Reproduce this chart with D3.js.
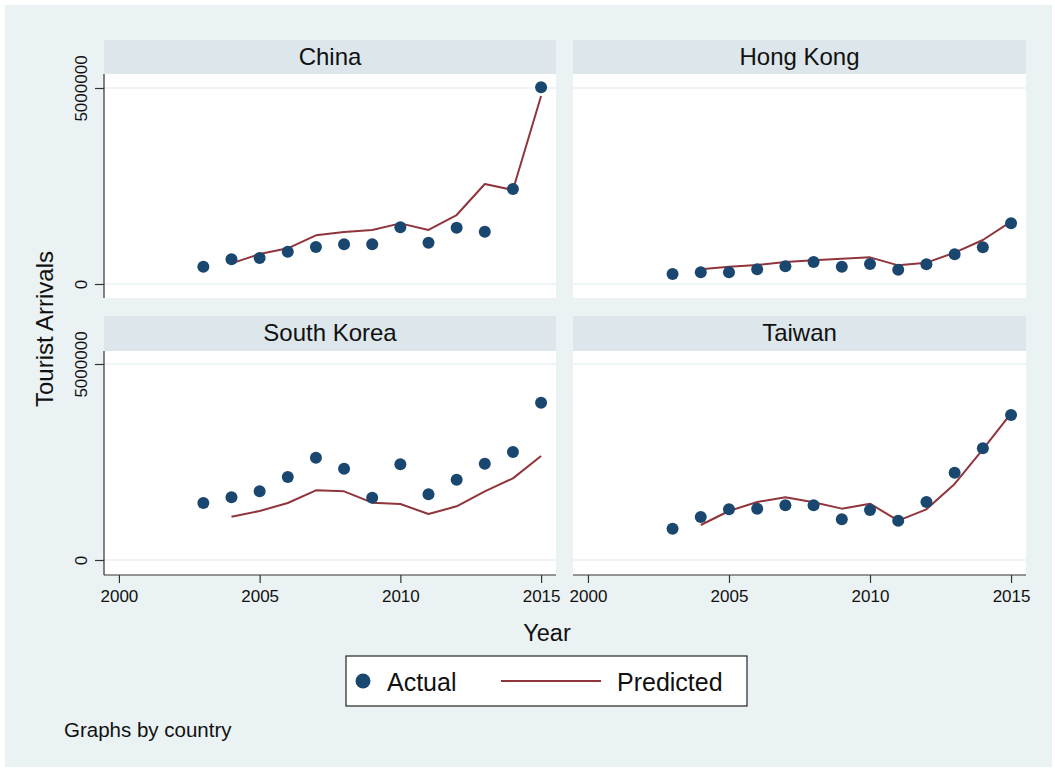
<!DOCTYPE html>
<html>
<head>
<meta charset="utf-8">
<script src="https://cdn.jsdelivr.net/npm/d3@7"></script>
<style>
  html, body { margin: 0; padding: 0; background: #ffffff; }
  svg { display: block; }
  text { font-family: "Liberation Sans", Arial, Helvetica, sans-serif; fill: #111; }
</style>
</head>
<body>
<svg id="chart" width="1055" height="770"></svg>
<script>
// ---------------- data ----------------
const countries = ["China", "Hong Kong", "South Korea", "Taiwan"];
const years = [2003, 2004, 2005, 2006, 2007, 2008, 2009, 2010, 2011, 2012, 2013, 2014, 2015];
const predYears = [2004, 2005, 2006, 2007, 2008, 2009, 2010, 2011, 2012, 2013, 2014, 2015];

const actualChina     = [441000, 630000, 663000, 824000, 944000, 1013000, 1013000, 1446000, 1054000, 1437000, 1335000, 2423000, 5017000];
const predictedChina  = [527000, 765000, 910000, 1241000, 1327000, 1378000, 1547000, 1378000, 1760000, 2551000, 2398000, 4796000];

const actualHongKong    = [255000, 298000, 298000, 374000, 451000, 561000, 442000, 510000, 366000, 502000, 757000, 935000, 1547000];
const predictedHongKong = [374000, 442000, 485000, 561000, 604000, 646000, 680000, 476000, 544000, 799000, 1122000, 1590000];

const actualKorea    = [1454000, 1599000, 1752000, 2117000, 2610000, 2330000, 1590000, 2440000, 1675000, 2049000, 2457000, 2755000, 4014000];
const predictedKorea = [1105000, 1250000, 1454000, 1777000, 1752000, 1463000, 1429000, 1173000, 1369000, 1752000, 2083000, 2653000];

const actualTaiwan    = [799000, 1097000, 1293000, 1310000, 1395000, 1395000, 1037000, 1276000, 1003000, 1480000, 2228000, 2848000, 3699000];
const predictedTaiwan = [893000, 1250000, 1480000, 1599000, 1471000, 1310000, 1437000, 1003000, 1293000, 1939000, 2823000, 3742000];

const yTicks = [0, 5000000];
const xTicks = [2000, 2005, 2010, 2015];
const legendLabels = ["Actual", "Predicted"];

const actuals = [actualChina, actualHongKong, actualKorea, actualTaiwan];
const predicteds = [predictedChina, predictedHongKong, predictedKorea, predictedTaiwan];

// ---------------- style ----------------
const BG = "#eaf2f3", STRIP = "#dce6eb", MARK = "#1a476f", LINE = "#90353b", AXIS = "#333333";
const FONT = '"Liberation Sans", Arial, Helvetica, sans-serif';
const svg = d3.select("#chart");

svg.append("rect").attr("x", 5).attr("y", 5).attr("width", 1047).attr("height", 762).attr("fill", BG);

// panel geometry
const panels = [
  { left: 104, right: 556, stripTop: 40, top: 74, bottom: 298, zeroPx: 284, showY: true,  showX: false },
  { left: 573, right: 1026, stripTop: 40, top: 74, bottom: 298, zeroPx: 284, showY: false, showX: false },
  { left: 104, right: 556, stripTop: 316, top: 351, bottom: 575, zeroPx: 560, showY: true,  showX: true },
  { left: 573, right: 1026, stripTop: 316, top: 351, bottom: 575, zeroPx: 560, showY: false, showX: true }
];
const pxPer5M = 196;

panels.forEach((p, i) => {
  const g = svg.append("g");
  // strip
  g.append("rect").attr("x", p.left).attr("y", p.stripTop)
    .attr("width", p.right - p.left).attr("height", p.top - p.stripTop).attr("fill", STRIP);
  g.append("text").attr("x", (p.left + p.right) / 2).attr("y", p.stripTop + 25)
    .attr("text-anchor", "middle").style("font-size", "24px").text(countries[i]);
  // plot area
  g.append("rect").attr("x", p.left).attr("y", p.top)
    .attr("width", p.right - p.left).attr("height", p.bottom - p.top).attr("fill", "#ffffff");

  const x = d3.scaleLinear().domain([1999.47, 2015.53]).range([p.left, p.right]);
  const yMin = -(p.bottom - p.zeroPx) / pxPer5M * 5000000;
  const yMax = (p.zeroPx - p.top) / pxPer5M * 5000000;
  const y = d3.scaleLinear().domain([yMin, yMax]).range([p.bottom, p.top]);

  // grid lines
  g.selectAll(".grid").data(yTicks).enter().append("line")
    .attr("x1", p.left).attr("x2", p.right)
    .attr("y1", d => y(d)).attr("y2", d => y(d))
    .attr("stroke", BG).attr("stroke-width", 1.5);

  // y axis
  if (p.showY) {
    const ya = g.append("g").attr("transform", `translate(${p.left},0)`)
      .call(d3.axisLeft(y).tickValues(yTicks).tickSize(9).tickPadding(5).tickFormat(d3.format("d")));
    ya.attr("font-size", null).attr("font-family", null);
    ya.select(".domain").attr("stroke", AXIS).attr("stroke-width", 1.2).attr("d", `M0,${p.top}V${p.bottom}`);
    ya.selectAll(".tick line").attr("stroke", AXIS).attr("stroke-width", 1.2);
    ya.selectAll(".tick text")
      .style("font-size", "17px").style("font-family", FONT).attr("fill", "#111")
      .attr("transform", "rotate(-90)")
      .attr("x", 0).attr("y", -17).attr("dy", "0").attr("text-anchor", "middle");
  }
  // x axis
  if (p.showX) {
    const xa = g.append("g").attr("transform", `translate(0,${p.bottom})`)
      .call(d3.axisBottom(x).tickValues(xTicks).tickSize(8).tickPadding(7).tickFormat(d3.format("d")));
    xa.attr("font-size", null).attr("font-family", null);
    xa.select(".domain").attr("stroke", AXIS).attr("stroke-width", 1.2).attr("d", `M${p.left},0H${p.right}`);
    xa.selectAll(".tick line").attr("stroke", AXIS).attr("stroke-width", 1.2);
    xa.selectAll(".tick text").style("font-size", "17px").style("font-family", FONT).attr("fill", "#111");
  }

  // predicted line
  const line = d3.line().x((d, j) => x(predYears[j])).y(d => y(d));
  g.append("path").datum(predicteds[i]).attr("d", line)
    .attr("fill", "none").attr("stroke", LINE).attr("stroke-width", 2).attr("stroke-linejoin", "round");

  // actual points
  g.selectAll(".pt").data(actuals[i]).enter().append("circle")
    .attr("cx", (d, j) => x(years[j])).attr("cy", d => y(d)).attr("r", 6)
    .attr("fill", MARK);
});

// axis titles
svg.append("text").attr("transform", "translate(53,329) rotate(-90)")
  .attr("text-anchor", "middle").style("font-size", "24px").text("Tourist Arrivals");
svg.append("text").attr("x", 547).attr("y", 640.5)
  .attr("text-anchor", "middle").style("font-size", "23.5px").text("Year");

// legend
const lg = svg.append("g");
lg.append("rect").attr("x", 346).attr("y", 656).attr("width", 401).attr("height", 50)
  .attr("fill", "#ffffff").attr("stroke", AXIS).attr("stroke-width", 1.3);
lg.append("circle").attr("cx", 363).attr("cy", 681).attr("r", 7.5).attr("fill", MARK);
lg.append("text").attr("x", 387).attr("y", 690.5).style("font-size", "25px").text(legendLabels[0]);
lg.append("line").attr("x1", 501).attr("x2", 601).attr("y1", 681).attr("y2", 681)
  .attr("stroke", LINE).attr("stroke-width", 2);
lg.append("text").attr("x", 617).attr("y", 690.5).style("font-size", "25px").text(legendLabels[1]);

// note
svg.append("text").attr("x", 64).attr("y", 737).style("font-size", "20.5px").text("Graphs by country");
</script>
</body>
</html>
